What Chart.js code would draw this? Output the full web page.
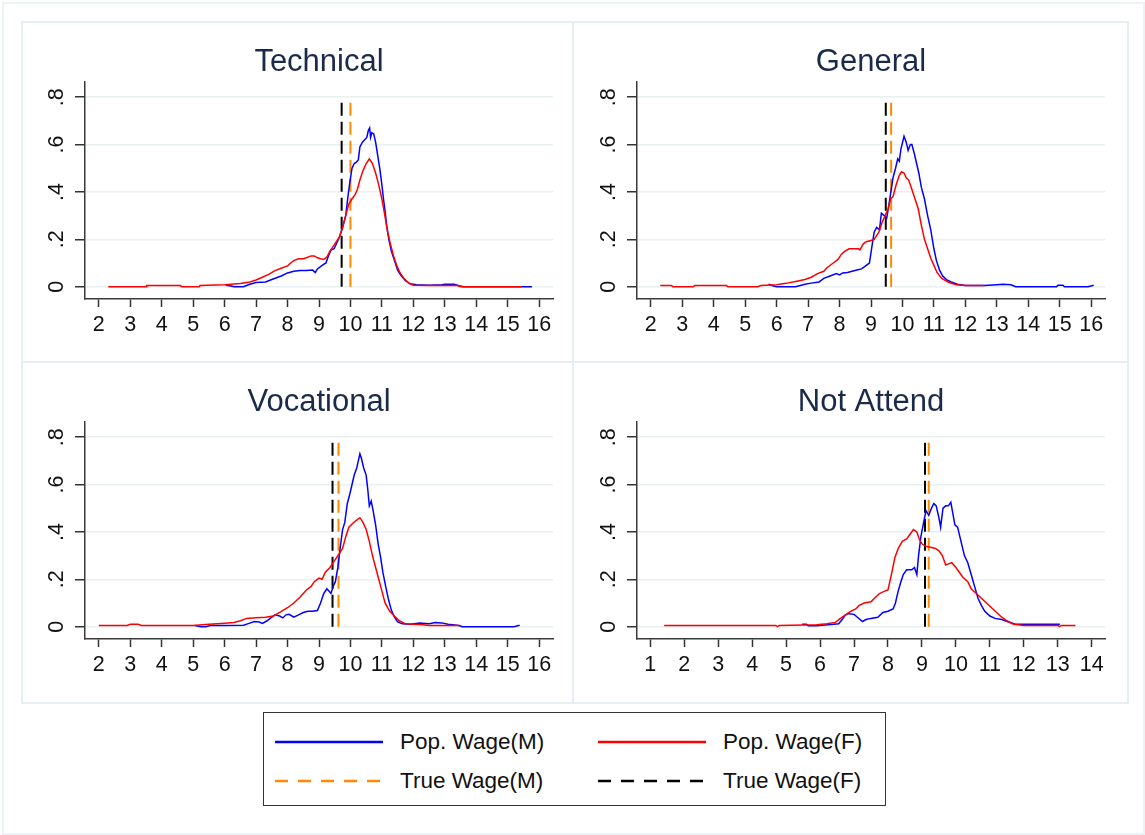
<!DOCTYPE html>
<html>
<head>
<meta charset="utf-8">
<script src="https://cdn.jsdelivr.net/npm/chart.js@4.4.1/dist/chart.umd.min.js"></script>
<style>
  body { margin: 0; background: #fff; font-family: "Liberation Sans", Arial, sans-serif; }
  #frame { position: absolute; left: 2px; top: 2px; width: 1139px; height: 829px; border: 2px solid #edf2f4; }
  #grid { position: absolute; left: 21px; top: 21px; width: 1104px; height: 679px; border: 2px solid #e6eef1; }
  .vdiv { position: absolute; left: 572px; top: 21px; width: 2px; height: 681px; background: #e6eef1; }
  .hdiv { position: absolute; left: 21px; top: 361px; width: 1106px; height: 2px; background: #e6eef1; }
  canvas { position: absolute; }
  #legend { position: absolute; left: 263px; top: 712px; width: 621px; height: 92px; border: 1px solid #333; }
  .key { position: absolute; height: 24px; }
  .key svg { position: absolute; left: 0; top: 0; }
  .key span { position: absolute; top: 0; line-height: 24px; font-size: 22.5px; color: #111; white-space: nowrap; }
</style>
</head>
<body>
<div id="frame"></div>
<div id="grid"></div>
<div class="vdiv"></div>
<div class="hdiv"></div>
<canvas id="c0" width="552" height="340" style="left:22px;top:22px"></canvas>
<canvas id="c1" width="552" height="340" style="left:574px;top:22px"></canvas>
<canvas id="c2" width="552" height="340" style="left:22px;top:362px"></canvas>
<canvas id="c3" width="552" height="340" style="left:574px;top:362px"></canvas>
<div id="legend"></div>
<script>
const panelTitles = ['Technical', 'General', 'Vocational', 'Not Attend'];
const legendLabels = ['Pop. Wage(M)', 'Pop. Wage(F)', 'True Wage(M)', 'True Wage(F)'];

const xTicks16 = [2, 3, 4, 5, 6, 7, 8, 9, 10, 11, 12, 13, 14, 15, 16];
const xTicks14 = [1, 2, 3, 4, 5, 6, 7, 8, 9, 10, 11, 12, 13, 14];
const yTicks = [0, 0.2, 0.4, 0.6, 0.8];
const yTickLabels = ['0', '.2', '.4', '.6', '.8'];

// true wage (vertical dashed lines), one per panel
const trueWageM = [10.0, 9.64, 9.62, 9.2];
const trueWageF = [9.72, 9.47, 9.43, 9.09];

// population wage densities [log wage, density]
const techM = [[6.04,0.006],[6.2,0.003],[6.3,0.0],[6.6,0.0],[6.8,0.01],[7.0,0.018],[7.3,0.02],[7.5,0.03],[7.8,0.045],[8.0,0.058],[8.2,0.065],[8.4,0.068],[8.6,0.068],[8.8,0.07],[8.88,0.06],[8.95,0.075],[9.1,0.09],[9.22,0.1],[9.3,0.13],[9.38,0.155],[9.48,0.16],[9.55,0.18],[9.65,0.21],[9.75,0.25],[9.85,0.3],[9.92,0.38],[9.98,0.44],[10.05,0.5],[10.12,0.52],[10.18,0.525],[10.25,0.535],[10.3,0.59],[10.38,0.61],[10.45,0.62],[10.52,0.63],[10.57,0.66],[10.61,0.67],[10.64,0.63],[10.68,0.65],[10.74,0.645],[10.8,0.61],[10.86,0.56],[10.93,0.5],[11.0,0.43],[11.05,0.37],[11.1,0.32],[11.15,0.26],[11.22,0.2],[11.3,0.15],[11.4,0.11],[11.5,0.07],[11.62,0.045],[11.75,0.025],[11.9,0.012],[12.1,0.008],[12.5,0.006],[12.9,0.008],[13.0,0.01],[13.3,0.01],[13.45,0.004],[13.6,0.0],[15.77,0.0]];
const techF = [[2.3,0.0],[3.5,0.0],[3.52,0.005],[4.6,0.005],[4.62,0.0],[5.2,0.0],[5.22,0.005],[6.0,0.008],[6.5,0.013],[6.8,0.02],[7.0,0.028],[7.2,0.04],[7.4,0.052],[7.6,0.068],[7.8,0.078],[8.0,0.088],[8.1,0.1],[8.2,0.11],[8.35,0.118],[8.5,0.118],[8.6,0.122],[8.75,0.13],[8.85,0.13],[8.95,0.122],[9.05,0.118],[9.15,0.115],[9.25,0.125],[9.35,0.15],[9.45,0.17],[9.55,0.19],[9.65,0.21],[9.75,0.25],[9.85,0.3],[9.95,0.35],[10.05,0.37],[10.15,0.39],[10.22,0.41],[10.3,0.45],[10.4,0.49],[10.5,0.52],[10.6,0.54],[10.7,0.52],[10.8,0.48],[10.9,0.43],[11.0,0.37],[11.08,0.31],[11.17,0.24],[11.27,0.18],[11.37,0.13],[11.47,0.09],[11.57,0.06],[11.7,0.035],[11.85,0.015],[12.0,0.006],[12.5,0.005],[13.4,0.005],[13.5,0.0],[15.44,0.0]];

const genM = [[5.74,0.01],[5.9,0.003],[6.0,0.0],[6.6,0.0],[6.9,0.01],[7.1,0.015],[7.35,0.02],[7.5,0.035],[7.7,0.045],[7.9,0.055],[8.0,0.05],[8.1,0.058],[8.25,0.06],[8.4,0.065],[8.55,0.07],[8.7,0.075],[8.85,0.09],[8.95,0.1],[9.03,0.17],[9.1,0.23],[9.18,0.25],[9.27,0.24],[9.33,0.31],[9.42,0.3],[9.5,0.29],[9.55,0.33],[9.62,0.39],[9.7,0.46],[9.78,0.5],[9.85,0.54],[9.9,0.53],[9.95,0.58],[10.05,0.635],[10.12,0.61],[10.18,0.575],[10.25,0.6],[10.3,0.6],[10.38,0.56],[10.45,0.52],[10.52,0.48],[10.6,0.42],[10.7,0.37],[10.8,0.3],[10.9,0.24],[11.0,0.16],[11.08,0.11],[11.18,0.07],[11.28,0.045],[11.4,0.03],[11.55,0.02],[11.75,0.01],[12.0,0.005],[12.6,0.005],[13.0,0.008],[13.2,0.01],[13.45,0.008],[13.6,0.0],[14.9,0.0],[14.95,0.006],[15.1,0.006],[15.15,0.0],[15.9,0.0],[16.08,0.006]];
const genF = [[2.3,0.005],[2.65,0.005],[2.7,0.0],[3.35,0.0],[3.4,0.005],[4.4,0.005],[4.45,0.0],[5.4,0.0],[5.5,0.005],[6.0,0.008],[6.3,0.014],[6.6,0.022],[6.9,0.03],[7.1,0.04],[7.3,0.055],[7.5,0.065],[7.6,0.08],[7.8,0.1],[7.95,0.115],[8.05,0.135],[8.15,0.148],[8.3,0.16],[8.45,0.16],[8.6,0.16],[8.65,0.155],[8.75,0.18],[8.85,0.19],[9.0,0.195],[9.1,0.2],[9.25,0.23],[9.35,0.27],[9.45,0.3],[9.55,0.33],[9.62,0.37],[9.7,0.38],[9.8,0.43],[9.9,0.47],[9.97,0.485],[10.05,0.48],[10.12,0.46],[10.2,0.45],[10.3,0.41],[10.4,0.37],[10.5,0.33],[10.6,0.26],[10.7,0.2],[10.8,0.16],[10.9,0.12],[11.0,0.09],[11.1,0.06],[11.25,0.035],[11.45,0.02],[11.7,0.008],[12.0,0.005],[12.6,0.005]];

const vocM = [[5.05,0.005],[5.25,0.0],[5.4,0.0],[5.55,0.005],[6.0,0.005],[6.6,0.006],[6.8,0.015],[6.95,0.022],[7.1,0.02],[7.2,0.014],[7.35,0.025],[7.5,0.04],[7.6,0.05],[7.75,0.045],[7.85,0.037],[7.95,0.05],[8.05,0.052],[8.2,0.04],[8.35,0.05],[8.5,0.06],[8.65,0.065],[8.8,0.065],[8.95,0.068],[9.05,0.1],[9.15,0.14],[9.25,0.16],[9.32,0.15],[9.38,0.14],[9.45,0.17],[9.52,0.19],[9.6,0.25],[9.67,0.33],[9.75,0.41],[9.82,0.44],[9.9,0.52],[9.98,0.56],[10.05,0.6],[10.12,0.64],[10.2,0.67],[10.25,0.7],[10.3,0.73],[10.35,0.71],[10.42,0.67],[10.5,0.64],[10.55,0.58],[10.6,0.51],[10.66,0.53],[10.72,0.49],[10.8,0.43],[10.88,0.35],[10.95,0.3],[11.03,0.23],[11.12,0.17],[11.2,0.12],[11.3,0.07],[11.4,0.04],[11.5,0.02],[11.65,0.012],[11.9,0.01],[12.2,0.015],[12.5,0.012],[12.7,0.018],[12.9,0.016],[13.1,0.01],[13.45,0.005],[13.55,0.0],[15.2,0.0],[15.38,0.006]];
const vocF = [[2.0,0.005],[2.9,0.005],[3.0,0.01],[3.25,0.01],[3.35,0.005],[5.0,0.005],[5.5,0.01],[6.0,0.015],[6.3,0.018],[6.5,0.025],[6.7,0.035],[7.0,0.038],[7.3,0.04],[7.55,0.045],[7.75,0.06],[8.0,0.08],[8.2,0.1],[8.4,0.125],[8.6,0.155],[8.75,0.17],[8.85,0.19],[9.0,0.205],[9.1,0.2],[9.2,0.23],[9.35,0.25],[9.5,0.28],[9.65,0.31],[9.75,0.33],[9.85,0.38],[9.95,0.42],[10.1,0.44],[10.2,0.45],[10.3,0.46],[10.4,0.44],[10.5,0.41],[10.6,0.36],[10.7,0.3],[10.8,0.25],[10.9,0.2],[11.0,0.15],[11.1,0.1],[11.25,0.065],[11.4,0.045],[11.55,0.025],[11.75,0.012],[12.0,0.01],[12.3,0.008],[12.5,0.005],[13.46,0.005]];

const naM = [[5.47,0.01],[5.6,0.01],[5.65,0.004],[5.9,0.004],[6.4,0.01],[6.55,0.012],[6.65,0.03],[6.75,0.05],[6.85,0.055],[7.0,0.052],[7.1,0.04],[7.25,0.022],[7.35,0.03],[7.5,0.035],[7.7,0.04],[7.85,0.06],[8.0,0.065],[8.15,0.075],[8.22,0.1],[8.3,0.15],[8.38,0.19],[8.45,0.22],[8.55,0.24],[8.7,0.24],[8.78,0.25],[8.85,0.22],[8.9,0.3],[8.97,0.38],[9.05,0.44],[9.12,0.49],[9.2,0.47],[9.28,0.5],[9.35,0.52],[9.42,0.51],[9.5,0.46],[9.55,0.42],[9.62,0.5],[9.7,0.51],[9.78,0.51],[9.85,0.525],[9.92,0.47],[9.97,0.43],[10.05,0.42],[10.15,0.36],[10.25,0.3],[10.35,0.27],[10.45,0.22],[10.55,0.17],[10.65,0.12],[10.75,0.09],[10.85,0.065],[11.0,0.045],[11.15,0.035],[11.35,0.03],[11.55,0.02],[11.75,0.01],[13.06,0.01]];
const naF = [[1.41,0.005],[4.7,0.005],[4.75,0.0],[4.8,0.005],[5.9,0.008],[6.2,0.012],[6.45,0.018],[6.6,0.035],[6.75,0.05],[6.9,0.065],[7.05,0.075],[7.15,0.09],[7.3,0.1],[7.5,0.105],[7.6,0.12],[7.75,0.14],[7.9,0.15],[8.0,0.155],[8.1,0.22],[8.2,0.29],[8.3,0.33],[8.42,0.36],[8.55,0.37],[8.65,0.39],[8.75,0.41],[8.85,0.4],[8.92,0.37],[9.0,0.35],[9.1,0.34],[9.25,0.335],[9.4,0.33],[9.5,0.32],[9.6,0.3],[9.7,0.26],[9.78,0.265],[9.88,0.27],[10.0,0.25],[10.1,0.23],[10.2,0.21],[10.35,0.19],[10.45,0.16],[10.6,0.14],[10.75,0.12],[10.9,0.1],[11.05,0.08],[11.2,0.06],[11.35,0.04],[11.5,0.025],[11.7,0.01],[12.0,0.005],[13.0,0.005],[13.05,0.0],[13.1,0.005],[13.52,0.005]];

const maleCurves = [techM, genM, vocM, naM];
const femaleCurves = [techF, genF, vocF, naF];
const panelTicks = [xTicks16, xTicks16, xTicks16, xTicks14];

const colors = { popM: '#0000ff', popF: '#ff0000', trueM: '#ff8a00', trueF: '#000000' };
const FONT = '"Liberation Sans", Arial, sans-serif';

const panelTitle = {
    id: 'panelTitle',
    afterDraw(chart, args, opts) {
        const { ctx, chartArea } = chart;
        ctx.save();
        ctx.font = '31px ' + FONT;
        ctx.fillStyle = '#1c2a4a';
        ctx.textAlign = 'center';
        ctx.textBaseline = 'middle';
        ctx.fillText(opts.text, (chartArea.left + chartArea.right) / 2, opts.y);
        ctx.restore();
    }
};

const toPoints = (arr) => arr.map(([x, y]) => ({ x, y }));
const vline = (v) => [{ x: v, y: 0 }, { x: v, y: 0.8 }];

function makePanel(i) {
    const ticks = panelTicks[i];
    const pad = ticks.length === 15 ? 0.44 : 0.39;
    const ctx = document.getElementById('c' + i).getContext('2d');
    new Chart(ctx, {
        type: 'scatter',
        data: {
            datasets: [
                { label: legendLabels[1], data: toPoints(femaleCurves[i]), borderColor: colors.popF, borderWidth: 1.5, order: 0 },
                { label: legendLabels[0], data: toPoints(maleCurves[i]), borderColor: colors.popM, borderWidth: 1.5, order: 1 },
                { label: legendLabels[2], data: vline(trueWageM[i]), borderColor: colors.trueM, borderWidth: 2, borderDash: [13, 6], order: 2 },
                { label: legendLabels[3], data: vline(trueWageF[i]), borderColor: colors.trueF, borderWidth: 2, borderDash: [13, 6], order: 3 }
            ].map(d => ({ ...d, showLine: true, pointRadius: 0, fill: false, tension: 0 }))
        },
        options: {
            responsive: false,
            animation: false,
            events: [],
            layout: { padding: { top: 60, right: 21, left: 0, bottom: 0 } },
            plugins: {
                legend: { display: false },
                tooltip: { enabled: false },
                panelTitle: { text: panelTitles[i], y: 40 }
            },
            scales: {
                x: {
                    type: 'linear',
                    min: ticks[0] - pad,
                    max: ticks[ticks.length - 1] + pad,
                    afterBuildTicks: (s) => { s.ticks = ticks.map(v => ({ value: v })); },
                    afterFit: (s) => { s.height = 63; },
                    grid: { drawOnChartArea: false, drawTicks: true, tickLength: 8, tickColor: '#333', tickWidth: 1.5 },
                    border: { color: '#3a3a3a', width: 1.5 },
                    ticks: { color: '#111', font: { family: FONT, size: 21.5 }, padding: 5, maxRotation: 0, autoSkip: false }
                },
                y: {
                    type: 'linear',
                    min: -0.052,
                    max: 0.864,
                    afterBuildTicks: (s) => { s.ticks = yTicks.map(v => ({ value: v })); },
                    afterCalculateLabelRotation: (s) => { s.labelRotation = 90; },
                    afterFit: (s) => { s.width = 63; },
                    grid: { color: '#e9f0f2', lineWidth: 1.5, drawTicks: true, tickLength: 10, tickColor: '#333', tickWidth: 1.5 },
                    border: { color: '#3a3a3a', width: 1.5 },
                    ticks: {
                        color: '#111', font: { family: FONT, size: 21.5 }, padding: 9,
                        minRotation: 90, maxRotation: 90, crossAlign: 'center',
                        callback: (v) => yTickLabels[yTicks.indexOf(v)] ?? ''
                    }
                }
            }
        },
        plugins: [panelTitle]
    });
}

for (let i = 0; i < 4; i++) makePanel(i);

// legend (HTML keys with svg samples)
const legendKeys = [
    { label: legendLabels[0], color: colors.popM, dash: '', left: 11, top: 17 },
    { label: legendLabels[1], color: colors.popF, dash: '', left: 334, top: 17 },
    { label: legendLabels[2], color: colors.trueM, dash: '13 10', left: 11, top: 56 },
    { label: legendLabels[3], color: colors.trueF, dash: '13 10', left: 334, top: 56 }
];
const legend = document.getElementById('legend');
legendKeys.forEach(k => {
    const div = document.createElement('div');
    div.className = 'key';
    div.style.left = k.left + 'px';
    div.style.top = k.top + 'px';
    div.innerHTML = `<svg width="110" height="24"><line x1="0" y1="12" x2="108" y2="12" stroke="${k.color}" stroke-width="2.5" ${k.dash ? `stroke-dasharray="${k.dash}"` : ''}/></svg><span style="left:125px">${k.label}</span>`;
    legend.appendChild(div);
});
</script>
</body>
</html>
